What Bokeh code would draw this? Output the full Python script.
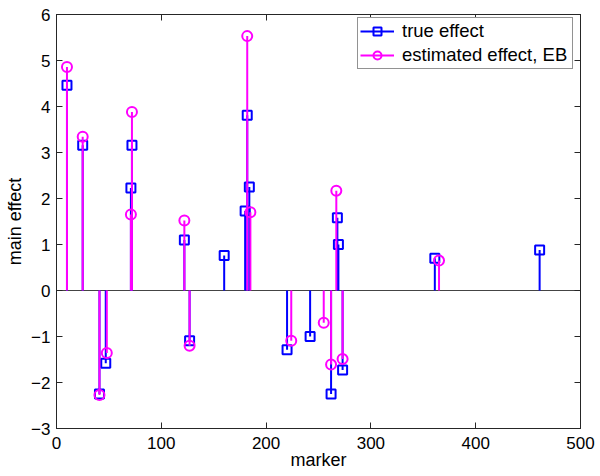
from bokeh.plotting import figure
from bokeh.models import (LinearAxis, Range1d, Span, Legend, LegendItem,
                          FixedTicker, ColumnDataSource)
from bokeh.embed import file_html
from bokeh.resources import INLINE

# ---- data ----
true_x = [10, 25, 41, 47, 71, 72, 122, 127, 160, 180, 182, 184, 220, 242,
          262, 268, 269, 273, 361, 461]
true_y = [4.46, 3.16, -2.25, -1.58, 2.23, 3.16, 1.10, -1.09, 0.76, 1.73,
          3.81, 2.25, -1.29, -1.00, -2.25, 1.58, 1.00, -1.73, 0.70, 0.88]
est_x = [10, 25, 41, 48, 71, 72, 122, 127, 182, 185, 224, 255, 262, 267,
         273, 365]
est_y = [4.86, 3.34, -2.27, -1.36, 1.65, 3.88, 1.52, -1.20, 5.53, 1.70,
         -1.09, -0.70, -1.61, 2.17, -1.49, 0.65]
x_ticks = [0, 100, 200, 300, 400, 500]
y_ticks = [-3, -2, -1, 0, 1, 2, 3, 4, 5, 6]
labels = ["true effect", "estimated effect, EB"]

FONT = "Liberation Sans"
BLUE = "#0000ff"
MAG = "#ff00ff"
AX = "#262626"

src_t = ColumnDataSource(dict(x=true_x, y=true_y, z=[0] * len(true_x)))
src_e = ColumnDataSource(dict(x=est_x, y=est_y, z=[0] * len(est_x)))

p = figure(frame_width=524, frame_height=414, x_range=Range1d(0, 500),
           y_range=Range1d(-3, 6), output_backend="svg",
           toolbar_location=None, min_border_left=56, min_border_right=20,
           min_border_top=14, min_border_bottom=48)
p.xgrid.visible = False
p.ygrid.visible = False
p.background_fill_color = "white"
p.border_fill_color = "white"
p.outline_line_color = AX
p.outline_line_width = 1

base = Span(location=0, dimension="width", line_color="#444444",
            line_width=1, level="underlay")
p.add_layout(base)

s1 = p.segment(x0="x", y0="z", x1="x", y1="y", source=src_t,
               line_color=BLUE, line_width=2)
m1 = p.scatter(x="x", y="y", source=src_t, marker="square", size=9,
               line_color=BLUE, line_width=2, fill_alpha=0)
s2 = p.segment(x0="x", y0="z", x1="x", y1="y", source=src_e,
               line_color=MAG, line_width=2)
m2 = p.scatter(x="x", y="y", source=src_e, marker="circle", size=10,
               line_color=MAG, line_width=2, fill_alpha=0)

def style_axis(ax):
    ax.axis_line_color = AX
    ax.major_tick_line_color = AX
    ax.major_tick_in = 6
    ax.major_tick_out = 0
    ax.minor_tick_line_color = None
    ax.major_label_text_font = FONT
    ax.major_label_text_font_size = "17px"
    ax.major_label_text_color = "black"
    ax.axis_label_text_font = FONT
    ax.axis_label_text_font_size = "18px"
    ax.axis_label_text_font_style = "normal"
    ax.axis_label_text_color = "black"

p.xaxis.ticker = FixedTicker(ticks=x_ticks)
p.yaxis.ticker = FixedTicker(ticks=y_ticks)
p.xaxis.axis_label = "marker"
p.yaxis.axis_label = "main effect"
style_axis(p.xaxis[0])
style_axis(p.yaxis[0])
p.xaxis.major_label_standoff = 8
p.xaxis.axis_label_standoff = -2
p.yaxis.major_label_standoff = 6
p.yaxis.axis_label_standoff = 3

# mirror axes (tick marks only, drawn as minor ticks so no labels exist)
for ticks, side in ((x_ticks, "above"), (y_ticks, "right")):
    ax = LinearAxis(ticker=FixedTicker(ticks=[], minor_ticks=ticks))
    ax.axis_line_color = AX
    ax.major_tick_line_color = None
    ax.minor_tick_line_color = AX
    ax.minor_tick_in = 6
    ax.minor_tick_out = 0
    ax.major_label_standoff = 0
    p.add_layout(ax, side)

legend = Legend(items=[LegendItem(label=labels[0], renderers=[s1, m1]),
                       LegendItem(label=labels[1], renderers=[s2, m2])],
                location=(301, 359))
legend.label_text_font = FONT
legend.label_text_font_size = "18.5px"
legend.label_text_color = "black"
legend.border_line_color = AX
legend.border_line_width = 1
legend.background_fill_alpha = 1
legend.glyph_width = 34
legend.glyph_height = 20
legend.label_height = 20
legend.label_width = 168
legend.label_standoff = 8
legend.spacing = 2
legend.padding = 2
legend.margin = 0
p.add_layout(legend)

open("out.html", "w").write(file_html(p, INLINE))
